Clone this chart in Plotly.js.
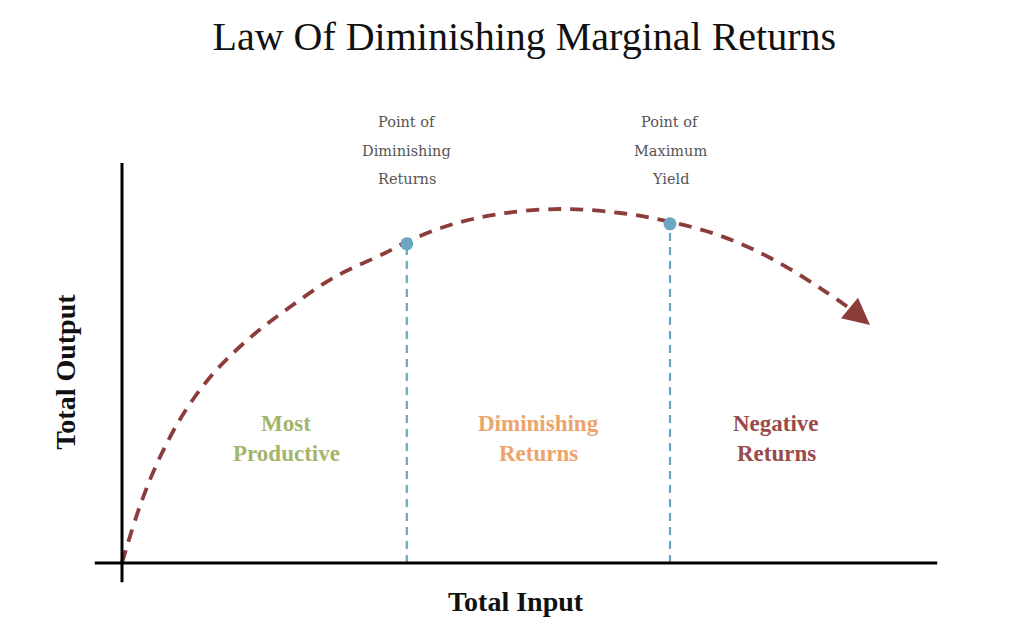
<!DOCTYPE html>
<html>
<head>
<meta charset="utf-8">
<script src="https://cdn.plot.ly/plotly-3.0.1.min.js"></script>
<style>html,body{margin:0;padding:0;background:#fff;}#chart{width:1024px;height:635px;}</style>
</head>
<body>
<div id="chart"></div>
<script>
// Total input (x) and total output (y)
const curveInput  = [0, 0.225, 0.475, 0.79, 1.16, 1.6, 2.1, 2.66, 3.29, 3.56, 4.1, 4.73, 5.48, 6.23, 6.85, 7.48, 8.1, 8.76, 9.12];
const curveOutput = [0, 1.43, 2.65, 3.8, 4.78, 5.63, 6.4, 7.15, 7.75, 8.03, 8.45, 8.73, 8.85, 8.75, 8.53, 8.18, 7.63, 6.83, 6.33];
const arrowTip = [9.35, 5.95];
const pointInput  = [3.56, 6.85];
const pointOutput = [7.98, 8.48];
const pointLabels = [["Point of", "Diminishing", "Returns"], ["Point of", "Maximum", "Yield"]];
const regionLabels = [["Most", "Productive"], ["Diminishing", "Returns"], ["Negative", "Returns"]];
const regionCenters = [2.05, 5.21, 8.175];
const regionColors = ["#a3b56c", "#eda46a", "#9a4a4a"];

const curveColor = "#8d3c3c";
const pointColor = "#6aa5c2";

const traces = [];
pointInput.forEach((x, i) => {
  traces.push({
    x: [x, x], y: [0, pointOutput[i]], mode: "lines", type: "scatter",
    line: {color: pointColor, width: 2.2, dash: "8px,6px"}, hoverinfo: "skip", showlegend: false
  });
});
traces.push({
  x: curveInput, y: curveOutput, mode: "lines", type: "scatter",
  line: {color: curveColor, width: 3.8, dash: "13px,9px", shape: "spline", smoothing: 1},
  hoverinfo: "skip", showlegend: false
});
traces.push({
  x: pointInput, y: pointOutput, mode: "markers", type: "scatter",
  marker: {size: 13, color: pointColor}, hoverinfo: "skip", showlegend: false
});

const last = curveInput.length - 1;
const annotations = [];
// arrow head at the end of the curve
annotations.push({
  x: arrowTip[0], y: arrowTip[1], xref: "x", yref: "y",
  ax: curveInput[last], ay: curveOutput[last], axref: "x", ayref: "y",
  text: "", showarrow: true, arrowhead: 2, arrowsize: 1.4, arrowwidth: 3.8, arrowcolor: curveColor
});
pointLabels.forEach((lines, i) => {
  lines.forEach((t, j) => {
    annotations.push({
      text: t, x: pointInput[i], y: 11.03 - j * 0.72, xref: "x", yref: "y",
      showarrow: false, xanchor: "center", yanchor: "middle",
      font: {family: "DejaVu Serif", size: 14.5, color: "#555555"}
    });
  });
});
regionLabels.forEach((lines, i) => {
  lines.forEach((t, j) => {
    annotations.push({
      text: "<b>" + t + "</b>", x: regionCenters[i], y: 3.5 - j * 0.75, xref: "x", yref: "y",
      showarrow: false, xanchor: "center", yanchor: "middle",
      font: {family: "Liberation Serif", size: 23, color: regionColors[i]}
    });
  });
});
annotations.push({
  text: "<b>Total Input</b>", x: 4.93, y: -0.95, xref: "x", yref: "y",
  showarrow: false, xanchor: "center", yanchor: "middle",
  font: {family: "Liberation Serif", size: 28, color: "#111"}
});
annotations.push({
  text: "<b>Total Output</b>", x: -0.7, y: 4.78, xref: "x", yref: "y", textangle: -90,
  showarrow: false, xanchor: "center", yanchor: "middle",
  font: {family: "Liberation Serif", size: 28, color: "#111"}
});

const layout = {
  width: 1024, height: 635,
  margin: {l: 0, r: 0, t: 0, b: 0},
  paper_bgcolor: "#fff", plot_bgcolor: "#fff",
  title: {text: "Law Of Diminishing Marginal Returns", x: 0.512, xanchor: "center", y: 0.943, yanchor: "middle",
          font: {family: "Liberation Serif", size: 40, color: "#111"}},
  xaxis: {range: [-1.525, 11.275], visible: false, fixedrange: true},
  yaxis: {range: [-1.8, 14.075], visible: false, fixedrange: true},
  shapes: [
    {type: "line", xref: "x", yref: "y", x0: -0.34, x1: 10.19, y0: 0, y1: 0, line: {color: "#000", width: 3}},
    {type: "line", xref: "x", yref: "y", x0: 0, x1: 0, y0: -0.48, y1: 10, line: {color: "#000", width: 3}}
  ],
  annotations: annotations
};

Plotly.newPlot("chart", traces, layout, {displayModeBar: false, staticPlot: true});
</script>
</body>
</html>
